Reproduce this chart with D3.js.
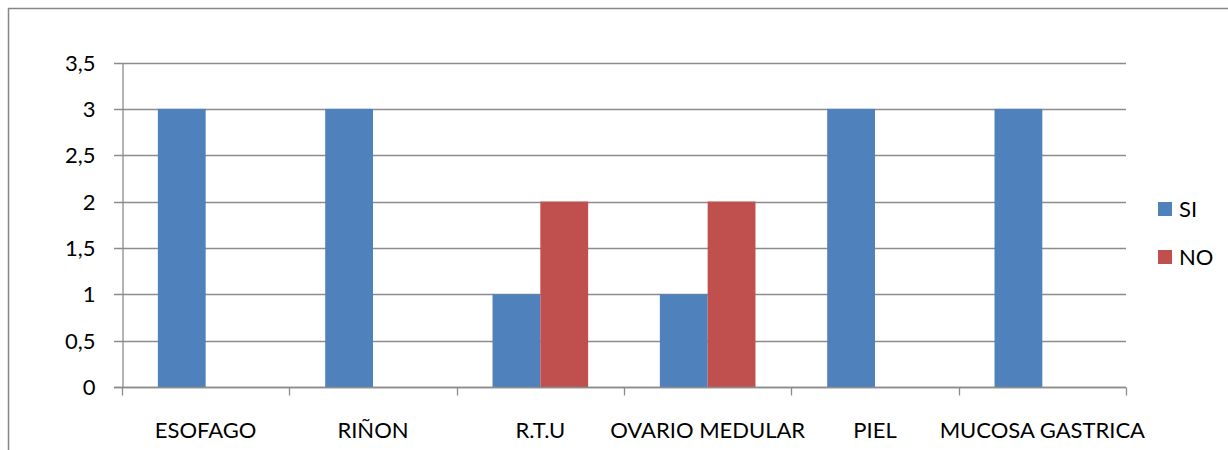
<!DOCTYPE html>
<html>
<head>
<meta charset="utf-8">
<script src="https://cdn.jsdelivr.net/npm/d3@7"></script>
<style>
  body { margin: 0; background: #fff; }
  text { font-family: Lato, "Open Sans", sans-serif; fill: #000; }
</style>
</head>
<body>
<div id="chart"></div>
<script>
// data
var categories = ["ESOFAGO", "RIÑON", "R.T.U", "OVARIO MEDULAR", "PIEL", "MUCOSA GASTRICA"];
var seriesNames = ["SI", "NO"];
var siValues = [3, 3, 1, 1, 3, 3];
var noValues = [0, 0, 2, 2, 0, 0];
var yTicks = [0, 0.5, 1, 1.5, 2, 2.5, 3, 3.5];

var colors = ["#4f81bd", "#c0504d"];
var width = 1228, height = 450;
var plotLeft = 122, plotRight = 1126, plotTop = 62.5, plotBottom = 387;

var svg = d3.select("#chart").append("svg")
  .attr("width", width)
  .attr("height", height);

// outer chart frame (runs off right / bottom edge)
svg.append("rect")
  .attr("x", 8.5).attr("y", 8.5)
  .attr("width", 1260).attr("height", 500)
  .attr("fill", "none")
  .attr("stroke", "#868686")
  .attr("stroke-width", 1.5);

var y = d3.scaleLinear().domain([0, 3.5]).range([plotBottom, plotTop]);
var x0 = d3.scaleBand().domain(categories).range([plotLeft, plotRight]).paddingInner(0).paddingOuter(0);
// excel gap width 150% -> bars take 2/3.5 of the band
var x1 = d3.scaleBand().domain(seriesNames).range([0, x0.bandwidth()]).paddingInner(0).paddingOuter(0.75);

// gridlines
svg.append("g")
  .selectAll("line")
  .data(yTicks)
  .enter().append("line")
  .attr("x1", plotLeft - 8).attr("x2", plotRight)
  .attr("y1", function(d) { return Math.round(y(d)) + 0.5; })
  .attr("y2", function(d) { return Math.round(y(d)) + 0.5; })
  .attr("stroke", "#8c8c8c")
  .attr("stroke-width", 1.3);

// bars
var rows = categories.map(function(c, i) { return { cat: c, vals: [siValues[i], noValues[i]] }; });
var groups = svg.append("g").selectAll("g")
  .data(rows)
  .enter().append("g")
  .attr("transform", function(d) { return "translate(" + x0(d.cat) + ",0)"; });

groups.selectAll("rect")
  .data(function(d) { return d.vals.map(function(v, k) { return { name: seriesNames[k], v: v, k: k }; }); })
  .enter().append("rect")
  .filter(function(d) { return d.v > 0; })
  .attr("x", function(d) { return x1(d.name); })
  .attr("width", x1.bandwidth())
  .attr("y", function(d) { return y(d.v); })
  .attr("height", function(d) { return y(0) - y(d.v); })
  .attr("fill", function(d) { return colors[d.k]; });

// y axis
var yAxis = d3.axisLeft(y).tickValues(yTicks).tickSize(0).tickPadding(27)
  .tickFormat(function(d) { return String(d).replace(".", ","); });
var yg = svg.append("g").attr("transform", "translate(" + (plotLeft + 0.5) + ",0)").call(yAxis);
yg.select(".domain").attr("stroke", "#8c8c8c").attr("stroke-width", 1.3);
yg.selectAll("text").attr("font-size", 22).attr("dy", "0.35em").attr("font-family", null);

// x axis
var xg = svg.append("g").attr("transform", "translate(0," + (Math.round(plotBottom) + 0.5) + ")");
xg.append("line").attr("x1", plotLeft - 8).attr("x2", plotRight).attr("stroke", "#8c8c8c").attr("stroke-width", 1.3);
xg.selectAll(".tk")
  .data(d3.range(categories.length + 1))
  .enter().append("line")
  .attr("class", "tk")
  .attr("x1", function(i) { return Math.round(plotLeft + i * x0.bandwidth()) + 0.5; })
  .attr("x2", function(i) { return Math.round(plotLeft + i * x0.bandwidth()) + 0.5; })
  .attr("y1", 0).attr("y2", 8)
  .attr("stroke", "#8c8c8c").attr("stroke-width", 1.3);
xg.selectAll(".lbl")
  .data(categories)
  .enter().append("text")
  .attr("class", "lbl")
  .attr("x", function(d) { return x0(d) + x0.bandwidth() / 2; })
  .attr("y", 50)
  .attr("text-anchor", "middle")
  .attr("font-size", 22)
  .text(function(d) { return d; });

// legend
var legend = svg.append("g").selectAll("g")
  .data(seriesNames)
  .enter().append("g")
  .attr("transform", function(d, i) { return "translate(1158," + (202 + i * 48) + ")"; });
legend.append("rect").attr("width", 14).attr("height", 14)
  .attr("fill", function(d, i) { return colors[i]; });
legend.append("text").attr("x", 21).attr("y", 15)
  .attr("font-size", 22)
  .text(function(d) { return d; });
</script>
</body>
</html>
